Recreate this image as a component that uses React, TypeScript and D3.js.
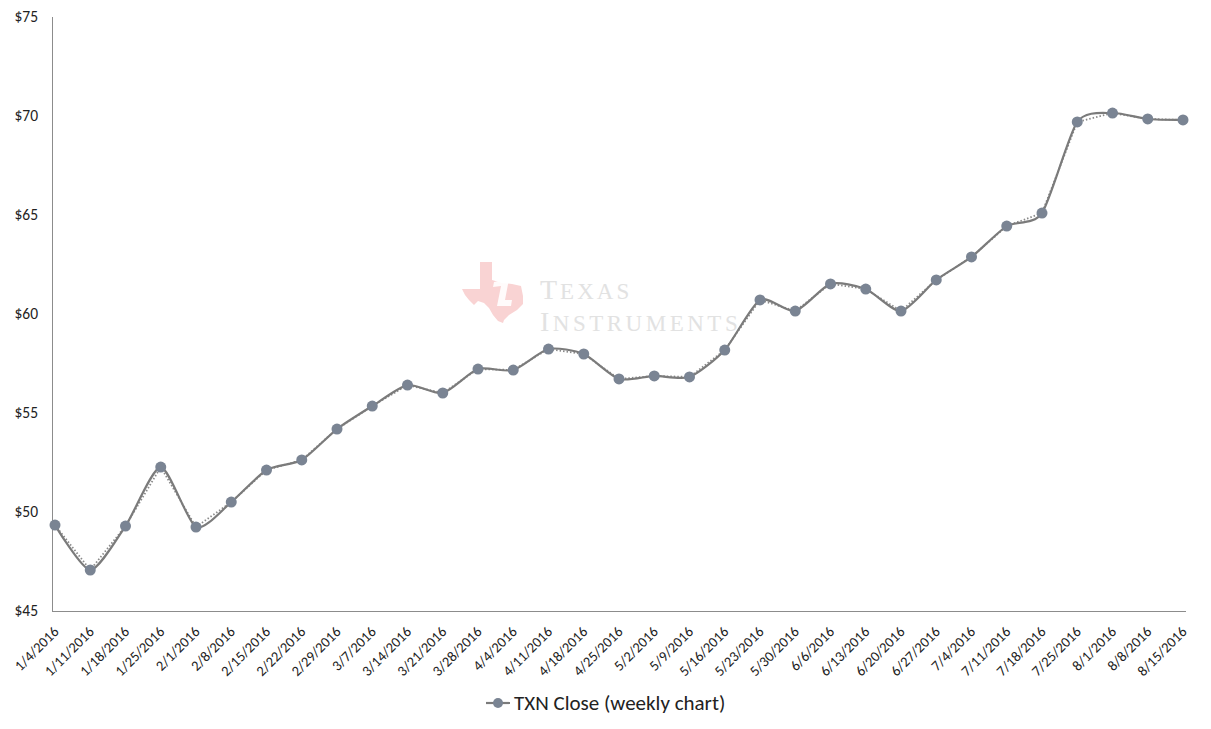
import React from "react";
import * as d3 from "d3";

const dates = [
  "1/4/2016","1/11/2016","1/18/2016","1/25/2016","2/1/2016","2/8/2016","2/15/2016","2/22/2016",
  "2/29/2016","3/7/2016","3/14/2016","3/21/2016","3/28/2016","4/4/2016","4/11/2016","4/18/2016",
  "4/25/2016","5/2/2016","5/9/2016","5/16/2016","5/23/2016","5/30/2016","6/6/2016","6/13/2016",
  "6/20/2016","6/27/2016","7/4/2016","7/11/2016","7/18/2016","7/25/2016","8/1/2016","8/8/2016","8/15/2016",
];
const closes = [
  49.34, 47.07, 49.29, 52.27, 49.24, 50.5, 52.12, 52.63,
  54.19, 55.35, 56.41, 56.01, 57.22, 57.17, 58.23, 57.98,
  56.72, 56.87, 56.82, 58.18, 60.71, 60.15, 61.52, 61.26,
  60.15, 61.72, 62.88, 64.44, 65.1, 69.7, 70.15, 69.85, 69.8,
];
const yTicks = [45, 50, 55, 60, 65, 70, 75];
const seriesName = "TXN Close (weekly chart)";

const FONT = "Calibri, Carlito, 'Open Sans', 'Liberation Sans', sans-serif";

export default function App() {
  const W = 1211, H = 729;
  const x = d3.scalePoint<string>().domain(dates).range([55, 1183]);
  const y = d3.scaleLinear().domain([45, 75]).range([611, 17]);
  const pts: [number, number][] = dates.map((d, i) => [x(d)!, y(closes[i])]);
  const smooth = d3.line().curve(d3.curveCardinal.tension(0.3))(pts)!;
  const straight = d3.line()(pts)!;

  // Texas logo outline (decorative watermark), relative coords
  const texas =
    "M18,0 L30,0 L30,18 L40,21 L50,22 L59,24 L61,34 L61,42 L55,48 L47,53 L42,58 L41,61 L36,59 L31,53 L27,46 L22,41 L16,39 L12,43 L7,38 L3,33 L0,27 L18,27 Z";

  return (
    <svg width={W} height={H} style={{ display: "block", position: "absolute", left: 0, top: 0 }}>
      <rect width={W} height={H} fill="#fff" />
      {/* watermark */}
      <g>
        <path d={texas} transform="translate(462,262)" fill="#f9d3d3" />
        <path d="M494,282 L509,279 L505,300 L512,300 L511,306 L497,306 L501,286 L493,287 Z" fill="#fff" opacity={0.9} />
        <circle cx={510} cy={272} r={3} fill="#fff" opacity={0.9} />
        <text x={540} y={299} fontFamily="'Liberation Serif', serif" fill="#e2e2e2" letterSpacing={3}>
          <tspan fontSize={28}>T</tspan>
          <tspan fontSize={23}>EXAS</tspan>
        </text>
        <text x={540} y={331} fontFamily="'Liberation Serif', serif" fill="#e2e2e2" letterSpacing={3.5}>
          <tspan fontSize={28}>I</tspan>
          <tspan fontSize={23}>NSTRUMENTS</tspan>
        </text>
      </g>
      {/* axes */}
      <line x1={52.5} x2={52.5} y1={17} y2={611.5} stroke="#8c8c8c" strokeWidth={1} />
      <line x1={52} x2={1186} y1={611.5} y2={611.5} stroke="#8c8c8c" strokeWidth={1} />
      {yTicks.map((t) => (
        <text key={t} x={38} y={y(t)} dy="0.35em" textAnchor="end" fontFamily={FONT} fontSize={15.5} fill="#222">
          ${t}
        </text>
      ))}
      {dates.map((d) => (
        <text
          key={d}
          transform={`translate(${x(d)! + 1},${629}) rotate(-45)`}
          textAnchor="end"
          dy="0.35em"
          fontFamily={FONT}
          fontSize={14.5}
          fill="#222"
        >
          {d}
        </text>
      ))}
      {/* series */}
      <path d={straight} fill="none" stroke="#8a8a8a" strokeWidth={1.8} strokeDasharray="1.5 2" />
      <path d={smooth} fill="none" stroke="#7b7b7b" strokeWidth={2.2} />
      {pts.map(([px, py], i) => (
        <circle key={i} cx={px} cy={py} r={5.5} fill="#7a8493" />
      ))}
      {/* legend */}
      <line x1={486} x2={510} y1={703} y2={703} stroke="#7b7b7b" strokeWidth={2.2} />
      <circle cx={498} cy={703} r={5} fill="#7a8493" />
      <text x={514} y={703} dy="0.35em" fontFamily={FONT} fontSize={21} fill="#222">{seriesName}</text>
    </svg>
  );
}
